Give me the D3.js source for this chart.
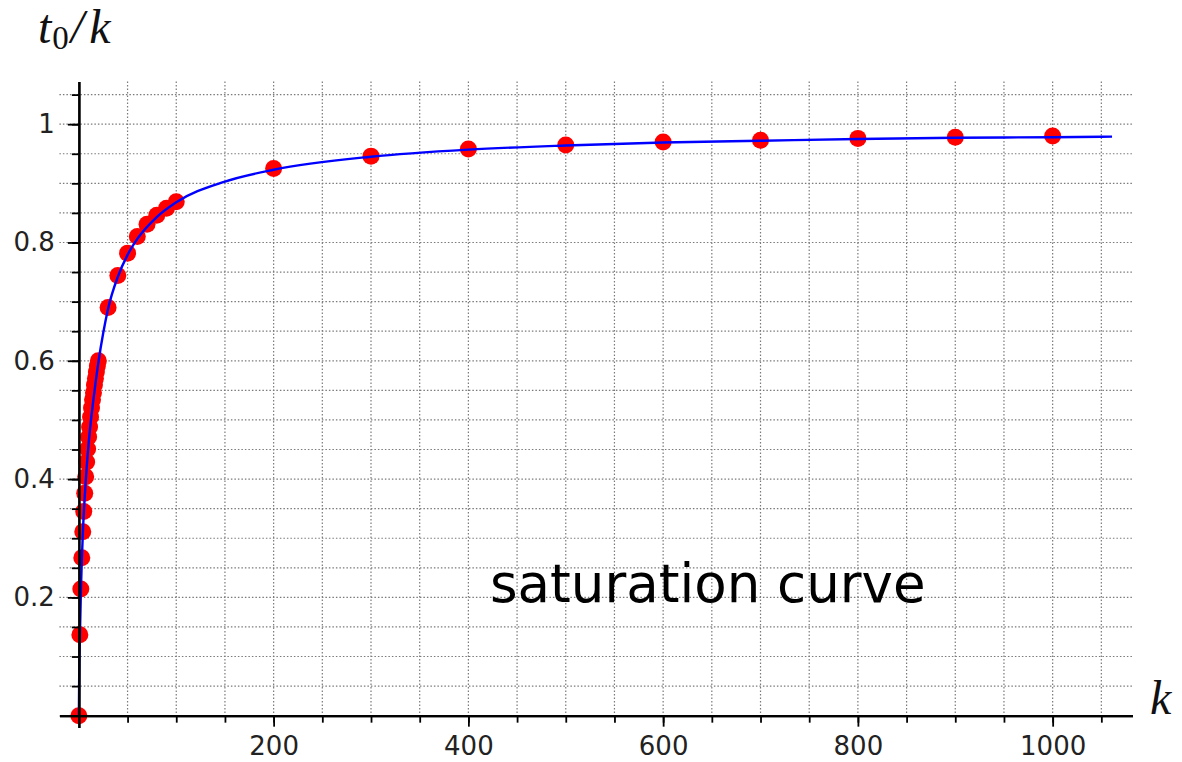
<!DOCTYPE html>
<html>
<head>
<meta charset="utf-8">
<script src="https://cdn.jsdelivr.net/npm/d3@7"></script>
<style>
  html, body { margin: 0; padding: 0; background: #fff; }
  svg { display: block; }
</style>
</head>
<body>
<svg id="chart" width="1182" height="762"></svg>
<script>
// ---- data ----
const kValues = [0,1,2,3,4,5,6,7,8,9,10,11,12,13,14,15,16,17,18,19,20,
                 30,40,50,60,70,80,90,100,
                 200,300,400,500,600,700,800,900,1000];
const ratioValues = [0,0.137,0.214,0.267,0.311,0.345,0.376,0.404,0.429,0.451,0.471,0.488,0.505,0.520,0.534,0.546,0.559,0.570,0.581,0.591,0.600,
                     0.690,0.744,0.782,0.810,0.831,0.846,0.858,0.869,
                     0.925,0.946,0.958,0.965,0.970,0.973,0.976,0.978,0.980];
// fitted saturation curve
const curveK = [0,0.3,1,2,4,7,10,15,20,25,30,40,50,60,80,100,150,200,300,400,500,600,700,800,900,1000,1061];
const curveV = [0,0.06,0.13,0.205,0.305,0.395,0.46,0.535,0.597,0.647,0.688,0.742,0.779,0.806,0.843,0.868,0.903,0.923,0.945,0.957,0.964,0.969,0.972,0.975,0.977,0.978,0.979];
const xMajorTicks = [200,400,600,800,1000];
const xTickLabels = ["200","400","600","800","1000"];
const yMajorTicks = [0.2,0.4,0.6,0.8,1.0];
const yTickLabels = ["0.2","0.4","0.6","0.8","1"];
const xMinorTicks = d3.range(50, 1051, 50);
const yMinorTicks = d3.range(1, 22).map(i => +(i*0.05).toFixed(2));
const annotation = "saturation curve";

// ---- layout ----
const svg = d3.select("#chart");
const x = d3.scaleLinear().domain([-20, 1082]).range([59.4, 1132.5]);
const y = d3.scaleLinear().domain([-0.02, 1.072]).range([727.5, 81.6]);

const tickFont = "'DejaVu Sans', sans-serif";
const mathFont = "'Liberation Serif', 'DejaVu Serif', serif";

// grid
const grid = svg.append("g").attr("stroke", "#7a7a7a").attr("stroke-width", 1.2)
  .attr("stroke-dasharray", "1.5,2").attr("fill", "none");
grid.selectAll("line.v").data(xMinorTicks).join("line")
  .attr("x1", d => x(d)).attr("x2", d => x(d))
  .attr("y1", y(1.072)).attr("y2", y(0));
grid.selectAll("line.h").data(yMinorTicks).join("line")
  .attr("x1", x(-20)).attr("x2", x(1082))
  .attr("y1", d => y(d)).attr("y2", d => y(d));

// points
const pts = kValues.map((k, i) => ({k, v: ratioValues[i]}));
svg.append("g").selectAll("circle").data(pts).join("circle")
  .attr("cx", d => x(d.k)).attr("cy", d => y(d.v)).attr("r", 8.5)
  .attr("fill", "#ff0000");

// curve
const curvePts = curveK.map((k, i) => [k, curveV[i]]);
svg.append("path").datum(curvePts)
  .attr("fill", "none").attr("stroke", "#0000ff").attr("stroke-width", 2.4)
  .attr("d", d3.line().x(d => x(d[0])).y(d => y(d[1])).curve(d3.curveMonotoneX));

// axes
const xAxisMinor = d3.axisBottom(x).tickValues(xMinorTicks).tickSize(7).tickSizeOuter(0).tickFormat("");
const xAxisMajor = d3.axisBottom(x).tickValues(xMajorTicks).tickSize(11).tickSizeOuter(0)
  .tickFormat((d, i) => xTickLabels[i]).tickPadding(10);
const yAxisMinor = d3.axisLeft(y).tickValues(yMinorTicks).tickSize(7).tickSizeOuter(0).tickFormat("");
const yAxisMajor = d3.axisLeft(y).tickValues(yMajorTicks).tickSize(11).tickSizeOuter(0)
  .tickFormat((d, i) => yTickLabels[i]).tickPadding(13);

function styleAxis(g) {
  g.select(".domain").attr("stroke", "#000").attr("stroke-width", 2.2);
  g.selectAll(".tick line").attr("stroke", "#000").attr("stroke-width", 1.8);
  g.selectAll(".tick text").attr("fill", "#222").style("font-family", tickFont).style("font-size", "26px");
}
svg.append("g").attr("transform", `translate(0,${y(0)})`).call(xAxisMinor).call(styleAxis);
svg.append("g").attr("transform", `translate(0,${y(0)})`).call(xAxisMajor).call(styleAxis);
svg.append("g").attr("transform", `translate(${x(0)},0)`).call(yAxisMinor).call(styleAxis);
svg.append("g").attr("transform", `translate(${x(0)},0)`).call(yAxisMajor).call(styleAxis);

// axis labels
const yl = svg.append("text").attr("x", 38).attr("y", 43)
  .style("font-family", mathFont).style("font-size", "48px").attr("fill", "#111");
yl.append("tspan").style("font-style", "italic").text("t");
yl.append("tspan").attr("dy", 6).attr("dx", 1).style("font-size", "33px").text("0");
yl.append("tspan").attr("dy", -6).attr("dx", 2).style("font-style", "italic").text("/");
yl.append("tspan").attr("dx", 5).style("font-style", "italic").text("k");

svg.append("text").attr("x", 1150).attr("y", 714)
  .style("font-family", mathFont).style("font-size", "48px")
  .style("font-style", "italic").attr("fill", "#111").text("k");

// annotation
svg.append("text").attr("x", 490).attr("y", 602)
  .style("font-family", tickFont).style("font-size", "53px").attr("fill", "#000")
  .text(annotation);
</script>
</body>
</html>
